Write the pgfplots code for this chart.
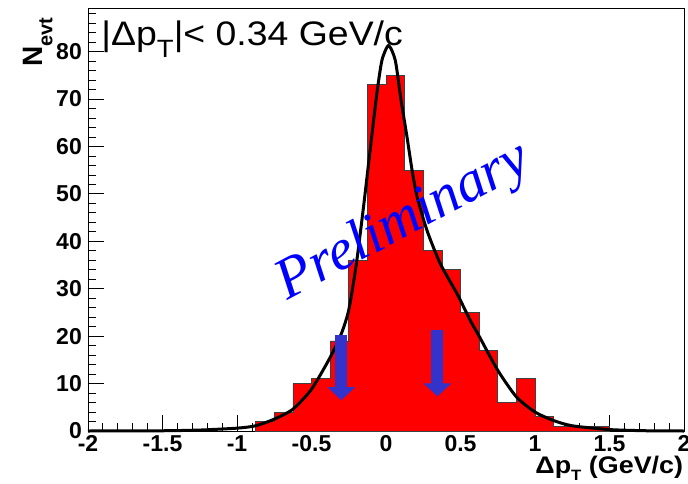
\documentclass[border=0pt]{standalone}
\usepackage{fontspec}
\setmainfont{Liberation Sans}
\newfontfamily\prelimfont{Liberation Serif}
\usepackage{graphicx}
\usepackage{pgfplots}
\pgfplotsset{compat=1.18}
\usetikzlibrary{arrows.meta}
\definecolor{arrowblue}{RGB}{51,51,204}
\begin{document}
\begin{tikzpicture}
\begin{axis}[
  at={(0,0)}, anchor=south west,
  width=596pt, height=423pt, scale only axis,
  xmin=-2, xmax=2, ymin=0, ymax=89.2,
  clip=false,
  axis line style={line width=0.8pt},
  xtick={-2,-1.5,-1,-0.5,0,0.5,1,1.5,2},
  xticklabels={-2,-1.5,-1,-0.5,0,0.5,1,1.5,2},
  ytick={0,10,20,30,40,50,60,70,80},
  yticklabels={0,10,20,30,40,50,60,70,80},
  minor xtick={-1.9,-1.8,-1.7,-1.6,-1.4,-1.3,-1.2,-1.1,-0.9,-0.8,-0.7,-0.6,-0.4,-0.3,-0.2,-0.1,0.1,0.2,0.3,0.4,0.6,0.7,0.8,0.9,1.1,1.2,1.3,1.4,1.6,1.7,1.8,1.9},
  minor ytick={2,4,...,88},
  xtick pos=bottom, ytick pos=left, tick align=inside,
  major tick length=16pt, minor tick length=8pt,
  tick style={black, line width=0.8pt},
  xticklabel style={font=\bfseries\fontsize{23}{23}\selectfont, anchor=north, inner sep=0pt, yshift=-4pt},
  yticklabel style={font=\bfseries\fontsize{23}{23}\selectfont, anchor=east, inner sep=0pt, xshift=-6pt},
]
% histogram (bin width 0.125)
\addplot[const plot, fill=red, draw=black!75, line width=0.7pt] coordinates {
  (-0.875,2) (-0.75,4) (-0.625,10) (-0.5,11) (-0.375,19) (-0.25,36)
  (-0.125,73) (0,75) (0.125,55) (0.25,38) (0.375,34) (0.5,25)
  (0.625,17) (0.75,6) (0.875,11) (1.0,3) (1.125,1) (1.25,1) (1.375,1) (1.5,1)
} \closedcycle;
% fit curve
\addplot[black, line width=3pt, smooth, tension=0.4] coordinates {
  (-2,0) (-1.5,0.05) (-1.25,0.2) (-1.0,0.6) (-0.875,1.1) (-0.75,2.5)
  (-0.625,4.6) (-0.5,8.8) (-0.375,15.5) (-0.3,20.5) (-0.25,25.5)
  (-0.2,35) (-0.15,47.5) (-0.1,61) (-0.06,71.5) (-0.027,78.2)
  (0.017,81.3) (0.062,78.2) (0.1,70) (0.141,62) (0.175,55) (0.208,49.5)
  (0.275,42.3) (0.364,35.3) (0.476,29) (0.566,23.3) (0.625,20)
  (0.75,12.8) (0.875,7.2) (1.0,4.0) (1.125,2.2) (1.25,1.1) (1.5,0.3)
  (1.75,0.05) (2,0)
};
% arrows
\addplot[arrowblue, line width=12pt, -{Triangle[width=27pt,length=13pt]}] coordinates {(-0.3,20.3) (-0.3,6.5)};
\addplot[arrowblue, line width=12pt, -{Triangle[width=27pt,length=13pt]}] coordinates {(0.345,21.4) (0.345,7.3)};
% texts
\node[anchor=base west, inner sep=0pt, font=\fontsize{34}{34}\selectfont] at (axis cs:-1.911,81.3)
  {\scalebox{1.1}[1]{|Δp\raisebox{-12pt}{\fontsize{25}{25}\selectfont T}|< 0.34 GeV/c}};
\node[anchor=base west, inner sep=0pt, rotate=28, text=blue, font=\prelimfont\itshape\fontsize{58}{58}\selectfont] at (axis cs:-0.66,27.6) {Preliminary};
\node[anchor=base east, inner sep=0pt, rotate=90, font=\bfseries\fontsize{28}{28}\selectfont] at (axis cs:-2.307,87.2)
  {N\raisebox{-10pt}{\fontsize{20}{20}\selectfont evt}};
\node[anchor=base east, inner sep=0pt, font=\bfseries\fontsize{24}{24}\selectfont] at (axis cs:1.995,-8.92)
  {\scalebox{1.12}[1]{Δp\raisebox{-7pt}{\fontsize{15}{15}\selectfont T} (GeV/c)}};
\end{axis}
\pgfresetboundingbox
\path[use as bounding box] (-88pt,-52pt) rectangle (600pt,431pt);
\end{tikzpicture}
\end{document}
